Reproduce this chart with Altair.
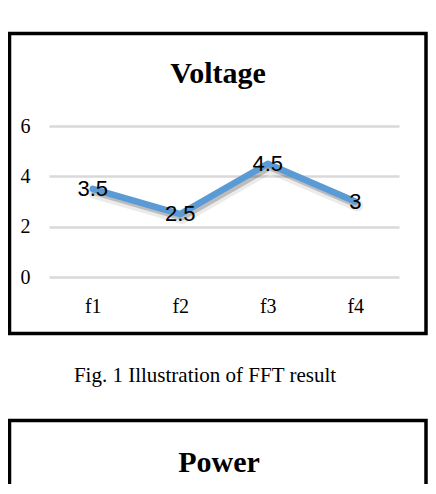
import altair as alt
import pandas as pd

categories = ["f1", "f2", "f3", "f4"]
voltage = [3.5, 2.5, 4.5, 3]
y_ticks = [0, 2, 4, 6]

title_text = "Voltage"
caption_text = "Fig. 1 Illustration of FFT result"
second_title = "Power"

df = pd.DataFrame({"freq": categories, "v": voltage})
one = pd.DataFrame({"k": [0]})

SERIF = "Liberation Serif"
SANS = "Liberation Sans"

x_enc = alt.X(
    "freq:N",
    sort=categories,
    scale=alt.Scale(type="point", padding=0.5),
    axis=alt.Axis(
        title=None, domain=False, ticks=False, grid=False, labelAngle=0,
        labelFont=SERIF, labelFontSize=20, labelColor="#000000", labelPadding=19,
    ),
)
y_enc = alt.Y(
    "v:Q",
    scale=alt.Scale(domain=[0, 6]),
    axis=alt.Axis(
        title=None, values=y_ticks, domain=False, ticks=False, grid=True,
        gridColor="#D9D9D9", gridWidth=2.3,
        labelFont=SERIF, labelFontSize=20, labelColor="#000000", labelPadding=19,
    ),
)

base = alt.Chart(df)

shadow2 = base.mark_line(
    color="#000000", opacity=0.08, strokeWidth=12, strokeCap="round", strokeJoin="round",
    xOffset=2, yOffset=4,
).encode(x=x_enc, y=y_enc)
shadow = base.mark_line(
    color="#000000", opacity=0.2, strokeWidth=7, strokeCap="round", strokeJoin="round",
    xOffset=2, yOffset=3,
).encode(x=x_enc, y=y_enc)
line = base.mark_line(
    color="#5B9BD5", strokeWidth=6.5, strokeCap="round", strokeJoin="round",
).encode(x=x_enc, y=y_enc)
labels = base.mark_text(
    font=SANS, fontSize=22, color="#000000", align="center", baseline="middle",
).encode(x=x_enc, y=y_enc, text=alt.Text("v:Q"))

box1 = alt.Chart(one).mark_rect(
    fill="white", fillOpacity=0, stroke="#000000", strokeWidth=3.5
).encode(
    x=alt.value(-39.5), x2=alt.value(377), y=alt.value(-92.5), y2=alt.value(207.5)
)
box2 = alt.Chart(one).mark_rect(
    fill="white", fillOpacity=0, stroke="#000000", strokeWidth=3.5
).encode(
    x=alt.value(-39.5), x2=alt.value(377), y=alt.value(294.5), y2=alt.value(420)
)
title1 = alt.Chart(one).mark_text(
    text=title_text, font=SERIF, fontSize=30, fontWeight="bold", color="#000000",
    align="center", baseline="alphabetic",
).encode(x=alt.value(169), y=alt.value(-43))
caption = alt.Chart(one).mark_text(
    text=caption_text, font=SERIF, fontSize=21, color="#000000",
    align="center", baseline="alphabetic",
).encode(x=alt.value(156), y=alt.value(256))
title2 = alt.Chart(one).mark_text(
    text=second_title, font=SERIF, fontSize=30, fontWeight="bold", color="#000000",
    align="center", baseline="alphabetic",
).encode(x=alt.value(170), y=alt.value(345.7))

chart = alt.layer(
    box1, box2, title1, caption, title2, shadow2, shadow, line, labels
).properties(
    width=350, height=151,
    autosize=alt.AutoSizeParams(type="none"),
    padding={"left": 41, "top": 118, "right": 29, "bottom": 207},
    background="white",
).configure_view(strokeWidth=0)

chart.save("out.html", embed_options={"renderer": "svg", "actions": False})
